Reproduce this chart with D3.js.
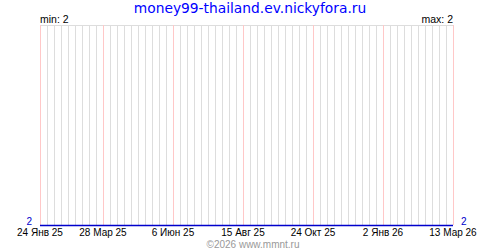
<!DOCTYPE html>
<html><head><meta charset="utf-8">
<script src="https://cdn.jsdelivr.net/npm/d3@7"></script>
<style>body{margin:0;background:#fff}svg{display:block}</style>
</head><body>
<script>
const title = "money99-thailand.ev.nickyfora.ru";
const footer = "©2026 www.mmnt.ru";
const dates = ["2025-01-24","2025-03-28","2025-06-06","2025-08-15","2025-10-24","2026-01-02","2026-03-13"];
const values = [2,2,2,2,2,2,2];
const tickDates = ["2025-01-24","2025-03-28","2025-06-06","2025-08-15","2025-10-24","2026-01-02","2026-03-13"];
const tickLabels = ["24 Янв 25","28 Мар 25","6 Июн 25","15 Авг 25","24 Окт 25","2 Янв 26","13 Мар 26"];

const W=500,H=250, L=40, R=453, T=25, B=225;
const parse = d3.utcParse("%Y-%m-%d");
const data = dates.map((d,i)=>({date:parse(d), v:values[i]}));
const start = parse(dates[0]), end = parse(dates[dates.length-1]);
const x = d3.scaleUtc().domain([start,end]).range([L,R]);
const vmin = d3.min(values), vmax = d3.max(values);
const y = d3.scaleLinear().domain([vmin, vmax===vmin ? vmin+1 : vmax]).range([B,T]);

const svg = d3.select("body").append("svg").attr("width",W).attr("height",H);
const nDays = Math.round((end-start)/864e5);
const weeks = d3.range(0, nDays+1, 7).map(k=>d3.utcDay.offset(start,k));
const pink = new Set(tickDates.map(d=>+parse(d)));

svg.append("line").attr("x1",L).attr("x2",R+1).attr("y1",T+0.5).attr("y2",T+0.5).attr("stroke","#dddddd");
svg.selectAll("line.g").data(weeks).enter().append("line")
  .attr("x1",d=>Math.round(x(d))+0.5).attr("x2",d=>Math.round(x(d))+0.5)
  .attr("y1",T).attr("y2",B)
  .attr("stroke",d=>pink.has(+d)?"#ffc8c8":"#dddddd");

svg.append("path").datum(data)
  .attr("d", d3.line().x(d=>x(d.date)).y(d=>Math.round(y(d.v))+0.5))
  .attr("fill","none").attr("stroke","#0000cc").attr("stroke-width",1.5);

const f = "'Liberation Sans', Arial, sans-serif";
svg.append("text").attr("x",250).attr("y",13).attr("text-anchor","middle")
  .attr("font-family","'DejaVu Sans', Verdana, sans-serif").attr("font-size",13.8).attr("fill","#0000ff").text(title);
svg.append("text").attr("x",L).attr("y",23).attr("font-family",f).attr("font-size",10.5).attr("fill","#000").text("min: "+vmin);
svg.append("text").attr("x",R).attr("y",23).attr("text-anchor","end").attr("font-family",f).attr("font-size",10.5).attr("fill","#000").text("max: "+vmax);
svg.append("text").attr("x",32).attr("y",225).attr("text-anchor","end").attr("font-family",f).attr("font-size",10).attr("fill","#0000cc").text(values[0]);
svg.append("text").attr("x",461).attr("y",225).attr("font-family",f).attr("font-size",10).attr("fill","#0000cc").text(values[values.length-1]);

svg.selectAll("text.t").data(tickDates).enter().append("text")
  .attr("x",d=>x(parse(d))).attr("y",236).attr("text-anchor","middle")
  .attr("font-family",f).attr("font-size",10).attr("fill","#000").text((d,i)=>tickLabels[i]);

svg.append("text").attr("x",253).attr("y",248).attr("text-anchor","middle")
  .attr("font-family",f).attr("font-size",10).attr("fill","#999").text(footer);
</script>
</body></html>
